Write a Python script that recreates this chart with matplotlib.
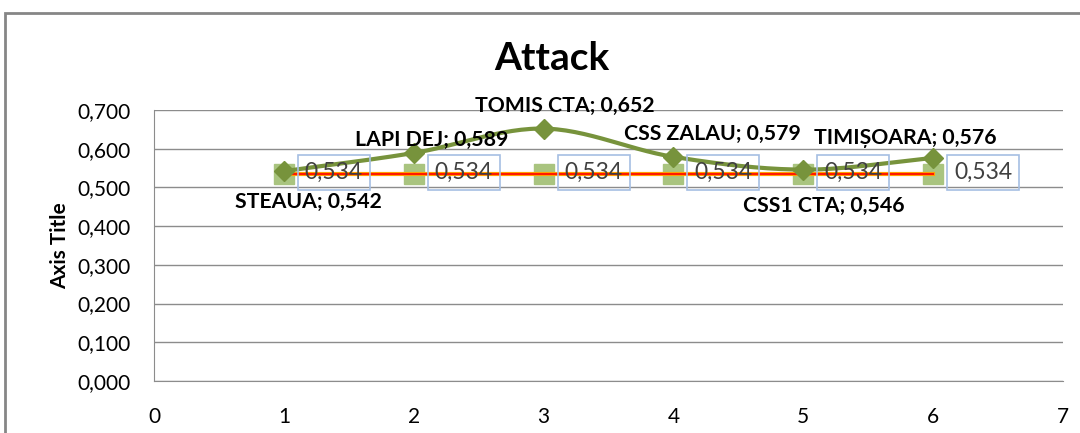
import numpy as np
import matplotlib
matplotlib.use('Agg')
from matplotlib import pyplot as plt
from matplotlib.patches import Rectangle
from matplotlib.ticker import FuncFormatter, MultipleLocator

plt.rcParams['font.family'] = ['Lato', 'DejaVu Sans']

# ---- dados ----
echipe = ['STEAUA', 'LAPI DEJ', 'TOMIS CTA', 'CSS ZALAU', 'CSS1 CTA', 'TIMIȘOARA']
x_pos = [1, 2, 3, 4, 5, 6]
attack = [0.542, 0.589, 0.652, 0.579, 0.546, 0.576]
media = [0.534, 0.534, 0.534, 0.534, 0.534, 0.534]

# offsets dos rotulos (em pixels)
offs = [(25, -31), (18, 13), (21, 23), (39, 23), (21, -36), (-28, 20)]


def suaviza(x, y, n=30):
    # curva suave tipo catmull-rom so para o desenho da linha
    x = np.asarray(x, float)
    y = np.asarray(y, float)
    px = np.concatenate([[2 * x[0] - x[1]], x, [2 * x[-1] - x[-2]]])
    py = np.concatenate([[2 * y[0] - y[1]], y, [2 * y[-1] - y[-2]]])
    xs, ys = [], []
    t = np.linspace(0, 1, n)
    for i in range(1, len(px) - 2):
        for p, out in ((px, xs), (py, ys)):
            p0, p1, p2, p3 = p[i - 1], p[i], p[i + 1], p[i + 2]
            out.extend(0.5 * (2 * p1 + (-p0 + p2) * t + (2 * p0 - 5 * p1 + 4 * p2 - p3) * t ** 2
                              + (-p0 + 3 * p1 - 3 * p2 + p3) * t ** 3))
    return xs, ys


fig = plt.figure(figsize=(10.8, 4.33), dpi=100)
ax = fig.add_axes([154 / 1080, 1 - 381 / 433, (1063 - 154) / 1080, (381 - 110) / 433])

# borda do grafico
fig.patches.append(Rectangle((5 / 1080, -0.2), 1.2, 1 - 13 / 433 + 0.2, transform=fig.transFigure,
                             fill=False, edgecolor='#868686', linewidth=2, zorder=0))

ax.set_xlim(0, 7)
ax.set_ylim(0, 0.7)
ax.yaxis.set_major_locator(MultipleLocator(0.1))
ax.xaxis.set_major_locator(MultipleLocator(1))
ax.yaxis.set_major_formatter(FuncFormatter(lambda v, p: f'{v:.3f}'.replace('.', ',')))
ax.xaxis.set_major_formatter(FuncFormatter(lambda v, p: f'{v:.0f}'))
ax.grid(axis='y', color='#8c8c8c', linewidth=1)
ax.set_axisbelow(True)
for s in ['top', 'right']:
    ax.spines[s].set_visible(False)
ax.spines['left'].set_color('#8c8c8c')
ax.spines['bottom'].set_color('#8c8c8c')
ax.tick_params(length=0, labelsize=15, colors='#000000')
ax.tick_params(axis='y', pad=17)
ax.tick_params(axis='x', pad=19)

ax.set_ylabel('Axis Title', fontsize=15, fontweight='bold', labelpad=5)
fig.text(552 / 1080, 1 - 58 / 433, 'Attack', fontsize=28, fontweight='bold', ha='center', va='center')

# serie media (quadrados)
ax.plot(x_pos, media, linestyle='none', marker='s', markersize=14, color='#a9c47f', zorder=3)
for xi, yi in zip(x_pos, media):
    ax.annotate(f'{yi:.3f}'.replace('.', ','), xy=(xi, yi), xytext=(50, 2), textcoords='offset pixels',
                ha='center', va='center', fontsize=16.5, color='#404040',
                bbox=dict(boxstyle='square,pad=0.3', fc='none', ec='#a6bfe3', lw=1.2), zorder=7)

# linha vermelha
ax.plot(x_pos, media, color='#ffa500', linewidth=3, zorder=4)
ax.plot(x_pos, media, color='#ff1a00', linewidth=1.5, zorder=5)

# serie attack
xs, ys = suaviza(x_pos, attack)
ax.plot(xs, ys, color='#77933c', linewidth=3, zorder=6)
ax.plot(x_pos, attack, linestyle='none', marker='D', markersize=10.5, color='#77933c', zorder=6)
for nome, xi, yi, o in zip(echipe, x_pos, attack, offs):
    ax.annotate(f'{nome}; ' + f'{yi:.3f}'.replace('.', ','), xy=(xi, yi), xytext=o,
                textcoords='offset pixels', ha='center', va='center', fontsize=15.3,
                fontweight='bold', color='#000000', zorder=8)

fig.savefig('out.png', dpi=100)
